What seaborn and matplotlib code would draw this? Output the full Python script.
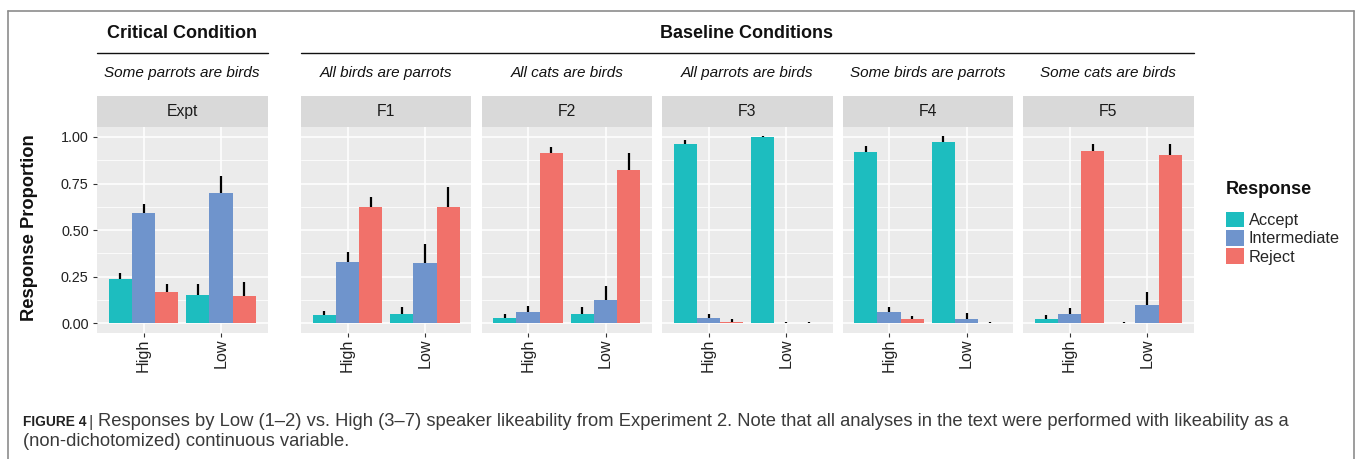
import numpy as np
import pandas as pd
import matplotlib
matplotlib.use("Agg")
import matplotlib.pyplot as plt
import seaborn as sns
from matplotlib.patches import Rectangle
from matplotlib.lines import Line2D

# ---------------- data ----------------
panels = ["Expt", "F1", "F2", "F3", "F4", "F5"]
sentences = ["Some parrots are birds", "All birds are parrots", "All cats are birds",
             "All parrots are birds", "Some birds are parrots", "Some cats are birds"]
likeability = ["High", "Low"]
responses = ["Accept", "Intermediate", "Reject"]

# mean response proportions, one value per panel (Expt, F1..F5)
high_accept = [0.237, 0.043, 0.029, 0.964, 0.918, 0.021]
high_inter  = [0.592, 0.328, 0.061, 0.030, 0.061, 0.052]
high_reject = [0.170, 0.626, 0.913, 0.007, 0.023, 0.927]
low_accept  = [0.153, 0.048, 0.048, 1.000, 0.975, 0.000]
low_inter   = [0.700, 0.324, 0.123, 0.000, 0.025, 0.100]
low_reject  = [0.146, 0.624, 0.825, 0.000, 0.000, 0.902]

# standard errors
high_accept_se = [0.033, 0.025, 0.019, 0.022, 0.034, 0.024]
high_inter_se  = [0.048, 0.053, 0.030, 0.020, 0.026, 0.028]
high_reject_se = [0.042, 0.053, 0.034, 0.014, 0.018, 0.036]
low_accept_se  = [0.057, 0.041, 0.039, 0.006, 0.032, 0.000]
low_inter_se   = [0.090, 0.102, 0.077, 0.000, 0.030, 0.066]
low_reject_se  = [0.077, 0.109, 0.089, 0.000, 0.000, 0.062]

y_ticks = [0.00, 0.25, 0.50, 0.75, 1.00]
y_tick_labels = ["0.00", "0.25", "0.50", "0.75", "1.00"]

palette = {"Accept": "#1DBDBF", "Intermediate": "#6F94CC", "Reject": "#F1716A"}

rows = []
series = {
    ("High", "Accept"): (high_accept, high_accept_se),
    ("High", "Intermediate"): (high_inter, high_inter_se),
    ("High", "Reject"): (high_reject, high_reject_se),
    ("Low", "Accept"): (low_accept, low_accept_se),
    ("Low", "Intermediate"): (low_inter, low_inter_se),
    ("Low", "Reject"): (low_reject, low_reject_se),
}
for (lk, rs), (m, s) in series.items():
    for i, p in enumerate(panels):
        rows.append({"Panel": p, "Likeability": lk, "Response": rs,
                     "Proportion": m[i], "SE": s[i]})
df = pd.DataFrame(rows)

# ---------------- figure ----------------
sns.set_theme(style="darkgrid")
plt.rcParams["font.family"] = ["Liberation Sans", "DejaVu Sans"]

W, H = 1356, 459
fig = plt.figure(figsize=(W / 100, H / 100), dpi=100)
fig.patch.set_facecolor("white")

def fx(px):
    return px / W

def fy(py):
    return 1 - py / H

panel_left = [97, 301, 481.5, 662, 842.5, 1023]
panel_w = 170.5
panel_top, panel_bot = 126.7, 332.7
strip_h = 31.0

handles = None
for i, p in enumerate(panels):
    ax = fig.add_axes([fx(panel_left[i]), fy(panel_bot), panel_w / W,
                       (panel_bot - panel_top) / H])
    sub = df[df["Panel"] == p]
    sns.barplot(data=sub, x="Likeability", y="Proportion", hue="Response",
                order=likeability, hue_order=responses, palette=palette,
                width=0.9, errorbar=None, saturation=1, ax=ax,
                legend=(i == 0), zorder=3, linewidth=0, edgecolor="none")
    if i == 0:
        handles, labels = ax.get_legend_handles_labels()
        ax.get_legend().remove()
    # error bars (upper part visible above bars)
    for j, rs in enumerate(responses):
        cont = ax.containers[j]
        for k, lk in enumerate(likeability):
            bar = cont[k]
            row = sub[(sub["Likeability"] == lk) & (sub["Response"] == rs)].iloc[0]
            xc = bar.get_x() + bar.get_width() / 2
            m, s = row["Proportion"], row["SE"]
            ax.plot([xc, xc], [m, m + max(s, 0.005)], color="black", lw=1.6,
                    solid_capstyle="butt", zorder=4)
    ax.set_xlim(-0.6, 1.6)
    ax.set_ylim(-0.05, 1.055)
    ax.set_facecolor("#EBEBEB")
    for sp in ax.spines.values():
        sp.set_visible(False)
    ax.set_yticks(y_ticks)
    ax.set_yticks([0.125, 0.375, 0.625, 0.875], minor=True)
    ax.grid(True, which="major", color="white", lw=1.1, zorder=0)
    ax.grid(True, which="minor", axis="y", color="white", lw=0.55, zorder=0)
    ax.set_axisbelow(True)
    ax.set_xlabel("")
    ax.set_ylabel("")
    ax.tick_params(axis="x", which="major", length=3.0, width=0.8, color="#333333",
                   pad=1.5, labelsize=11.6, labelcolor="#222222", rotation=90,
                   bottom=True)
    ax.tick_params(axis="y", which="minor", length=0, left=False)
    if i == 0:
        ax.set_yticklabels(y_tick_labels)
        ax.tick_params(axis="y", which="major", length=3.0, width=0.8,
                       color="#333333", pad=3, labelsize=10.4,
                       labelcolor="#222222", left=True)
    else:
        ax.tick_params(axis="y", which="major", length=0, labelleft=False,
                       left=False)
    # facet strip
    sh = strip_h / (panel_bot - panel_top)
    ax.add_patch(Rectangle((0, 1), 1, sh, transform=ax.transAxes,
                           facecolor="#D9D9D9", edgecolor="none", clip_on=False))
    ax.text(0.5, 1 + sh / 2, p, transform=ax.transAxes, ha="center",
            va="center", fontsize=11.3, color="#1A1A1A")
    # italic sentence
    fig.text(fx(panel_left[i] + panel_w / 2), fy(73), sentences[i],
             ha="center", va="center", fontsize=11.0, style="italic",
             color="#111111")

# group headers
fig.text(fx(182.3), fy(33), "Critical Condition", ha="center", va="center",
         fontsize=13, fontweight="bold", color="#111111")
fig.add_artist(Line2D([fx(97), fx(267.7)], [fy(52.7), fy(52.7)],
                      color="#111111", lw=1.0))
fig.text(fx(747), fy(33), "Baseline Conditions", ha="center", va="center",
         fontsize=13, fontweight="bold", color="#111111")
fig.add_artist(Line2D([fx(301), fx(1193.5)], [fy(52.7), fy(52.7)],
                      color="#111111", lw=1.0))

# y-axis title
fig.text(fx(29.5), fy(228), "Response Proportion", rotation=90, ha="center",
         va="center", fontsize=13.2, fontweight="bold", color="#111111")

# legend
fig.text(fx(1226), fy(190), "Response", ha="left", va="center", fontsize=13,
         fontweight="bold", color="#111111")
fig.legend(handles, labels, loc="upper left",
           bbox_to_anchor=(fx(1226), fy(211.5)), frameon=False,
           borderpad=0, borderaxespad=0, handlelength=1.1, handleheight=1.1,
           handletextpad=0.3, labelspacing=0.12, fontsize=11.8)

# frame around figure
frame_kw = dict(color="#8C8C8C", lw=1.2)
fig.add_artist(Line2D([fx(8), fx(8)], [fy(11), 0], **frame_kw))
fig.add_artist(Line2D([fx(8), fx(1354)], [fy(11), fy(11)], **frame_kw))
fig.add_artist(Line2D([fx(1354), fx(1354)], [fy(11), 0], **frame_kw))

# caption
fig.text(fx(23), fy(426), "FIGURE 4", ha="left", va="baseline", fontsize=9.9,
         fontweight="bold", color="#222222")
fig.text(fx(88.5), fy(427.5), "|", ha="left", va="baseline", fontsize=12.5,
         color="#444444")
fig.text(fx(98), fy(426),
         "Responses by Low (1\u20132) vs. High (3\u20137) speaker likeability from "
         "Experiment 2. Note that all analyses in the text were performed with "
         "likeability as a", ha="left", va="baseline", fontsize=13.25,
         color="#3A3A3A")
fig.text(fx(23), fy(446), "(non-dichotomized) continuous variable.", ha="left",
         va="baseline", fontsize=13.25, color="#3A3A3A")

fig.savefig("out.png", dpi=100, facecolor="white")
